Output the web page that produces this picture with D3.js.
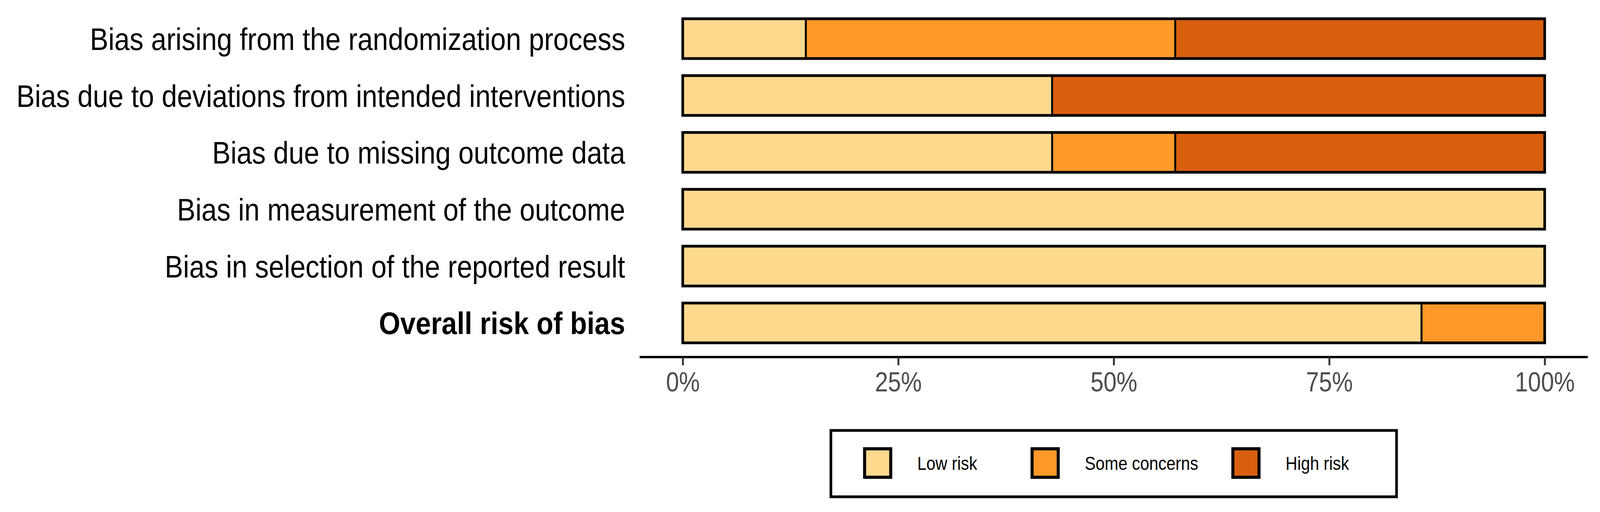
<!DOCTYPE html>
<html>
<head>
<meta charset="utf-8">
<script src="https://cdn.jsdelivr.net/npm/d3@7"></script>
<style>
  html, body { margin: 0; padding: 0; background: #fff; overflow: hidden; }
  svg { display: block; }
  text { font-family: "Liberation Sans", Arial, Helvetica, sans-serif; }
</style>
</head>
<body>
<div id="chart"></div>
<script>
// domains, top to bottom
var domains = [
    "Bias arising from the randomization process",
    "Bias due to deviations from intended interventions",
    "Bias due to missing outcome data",
    "Bias in measurement of the outcome",
    "Bias in selection of the reported result",
    "Overall risk of bias"
];

// judgement levels and colours
var levels = ["Low risk", "Some concerns", "High risk"];
var colours = ["#fed98e", "#fe9929", "#d95f0e"];

// number of studies (out of 7) per judgement, same order as domains
var lowCounts  = [1, 3, 3, 7, 7, 6];
var someCounts = [3, 0, 1, 0, 0, 1];
var highCounts = [3, 4, 3, 0, 0, 0];

var xTicks = [0, 0.25, 0.5, 0.75, 1];

var width = 4223, height = 1312;

// text in the picture is narrower than Liberation Sans, so squeeze it a bit
var labSqueeze = 0.908, tickSqueeze = 0.87, keySqueeze = 0.88;

// drawn in a 4223x1312 frame, stretched to fill the window
var svg = d3.select("#chart")
    .append("svg")
    .attr("viewBox", "0 0 " + width + " " + height)
    .attr("preserveAspectRatio", "none")
    .style("width", "100vw")
    .style("height", "100vh");

var x = d3.scaleLinear().domain([0, 1]).range([1802, 4077]);
var y = d3.scaleBand().domain(domains).range([11.6, 915])
    .paddingInner(0.3).paddingOuter(0.25);

// build stacked proportions
var rows = domains.map(function(d, i) {
    var counts = [lowCounts[i], someCounts[i], highCounts[i]];
    var total = d3.sum(counts);
    var start = 0;
    var segs = [];
    counts.forEach(function(c, j) {
        if (c > 0) {
            segs.push({ level: j, x0: start / total, x1: (start + c) / total });
        }
        start += c;
    });
    return { domain: d, segs: segs };
});

var row = svg.selectAll(".row")
    .data(rows)
    .enter().append("g")
    .attr("class", "row");

row.selectAll(".seg")
    .data(function(d) { return d.segs.map(function(s) { s.domain = d.domain; return s; }); })
    .enter().append("rect")
    .attr("class", "seg")
    .attr("x", function(d) { return x(d.x0); })
    .attr("y", function(d) { return y(d.domain); })
    .attr("width", function(d) { return x(d.x1) - x(d.x0); })
    .attr("height", y.bandwidth())
    .style("fill", function(d) { return colours[d.level]; })
    .style("stroke", "#000")
    .style("stroke-width", 5);

// outer frame of each bar
row.append("rect")
    .attr("x", x(0))
    .attr("y", function(d) { return y(d.domain); })
    .attr("width", x(1) - x(0))
    .attr("height", y.bandwidth())
    .style("fill", "none")
    .style("stroke", "#000")
    .style("stroke-width", 7);

// domain labels
svg.selectAll(".lab")
    .data(domains)
    .enter().append("text")
    .attr("class", "lab")
    .attr("transform", function(d) {
        return "translate(1650," + (y(d) + y.bandwidth() / 2) + ") scale(" + labSqueeze + ",1)";
    })
    .attr("dy", "0.36em")
    .attr("text-anchor", "end")
    .style("font-size", "80px")
    .style("font-weight", function(d, i) { return i === domains.length - 1 ? "bold" : "normal"; })
    .style("fill", "#000")
    .text(function(d) { return d; });

// x axis
var axisY = 915;
var pad = (x(1) - x(0)) * 0.05;
svg.append("line")
    .attr("x1", x(0) - pad)
    .attr("x2", x(1) + pad)
    .attr("y1", axisY)
    .attr("y2", axisY)
    .style("stroke", "#000")
    .style("stroke-width", 6);

var axis = svg.append("g")
    .attr("transform", "translate(0," + axisY + ")")
    .call(d3.axisBottom(x).tickValues(xTicks).tickFormat(d3.format(".0%"))
        .tickSize(21).tickPadding(17));
axis.select(".domain").remove();
axis.selectAll(".tick line")
    .style("stroke", "#333")
    .style("stroke-width", 5);
axis.selectAll(".tick text")
    .attr("transform", "scale(" + tickSqueeze + ",1)")
    .style("font-family", "'Liberation Sans', Arial, sans-serif")
    .style("font-size", "71px")
    .style("fill", "#4d4d4d");

// legend
var legendW = 1493, legendH = 170;
var legendX = (x(0) - pad + x(1) + pad) / 2 - legendW / 2;
var legendY = 1103;
var keyOffsets = [89, 531, 1061]; // left edge of each key inside the box
var legend = svg.append("g")
    .attr("transform", "translate(" + legendX + "," + legendY + ")");

legend.append("rect")
    .attr("width", legendW)
    .attr("height", legendH)
    .style("fill", "#fff")
    .style("stroke", "#000")
    .style("stroke-width", 7);

var key = legend.selectAll(".key")
    .data(levels)
    .enter().append("g")
    .attr("class", "key")
    .attr("transform", function(d, i) { return "translate(" + keyOffsets[i] + ",47)"; });

key.append("rect")
    .attr("width", 69)
    .attr("height", 73)
    .style("fill", function(d, i) { return colours[i]; })
    .style("stroke", "#000")
    .style("stroke-width", 8);

key.append("text")
    .attr("transform", "translate(139,36) scale(" + keySqueeze + ",1)")
    .attr("dy", "0.36em")
    .style("font-size", "49px")
    .style("fill", "#000")
    .text(function(d) { return d; });
</script>
</body>
</html>
